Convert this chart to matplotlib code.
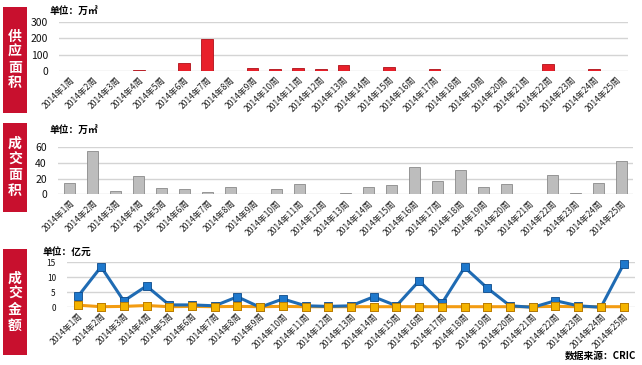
import matplotlib
matplotlib.use("Agg")
import matplotlib.pyplot as plt
from matplotlib.patches import Rectangle
import numpy as np

plt.rcParams['font.family'] = ['Noto Sans CJK SC', 'DejaVu Sans']

weeks = [f"2014年{i}周" for i in range(1, 26)]
supply = [1, 0, 1, 5, 0, 51, 195, 0, 19, 12, 20, 15, 38, 0, 26, 0, 15, 0, 3, 0, 0, 42, 0, 10, 0]
deal_area = [14, 55, 4, 23, 8, 6.5, 3.5, 9, 0, 7, 13.5, 0, 1.5, 9, 12, 35, 17, 31, 9, 13.5, 0, 25, 1.5, 14, 42]
amount_blue = [3.8, 13.5, 2.1, 7.1, 0.8, 0.8, 0.5, 3.5, 0.0, 2.8, 0.5, 0.3, 0.5, 3.5, 0.5, 8.8, 1.3, 13.3, 6.4, 0.5, 0.0, 2.2, 0.5, 0.0, 14.4]
amount_orange = [0.7, 0.2, 0.3, 0.6, 0.2, 0.3, 0.2, 0.3, 0.2, 0.3, 0.2, 0.2, 0.2, 0.2, 0.2, 0.2, 0.2, 0.2, 0.2, 0.2, 0.2, 0.3, 0.2, 0.2, 0.2]

W, H = 642, 365
fig = plt.figure(figsize=(W/100, H/100), dpi=100)

def ax_px(x0, y_top, x1, y_bot):
    return fig.add_axes([x0/W, 1 - y_bot/H, (x1-x0)/W, (y_bot-y_top)/H])

def style(ax, yticks, ylim, fs):
    ax.set_ylim(*ylim)
    ax.set_yticks(yticks)
    ax.set_xlim(-0.5, len(weeks)-0.5)
    ax.set_xticks(range(len(weeks)))
    ax.set_xticklabels(weeks, rotation=45, ha='right', rotation_mode='anchor', fontsize=6.2, color='#222222')
    ax.tick_params(axis='y', labelsize=fs, length=0, pad=8, labelcolor='#111111')
    ax.tick_params(axis='x', length=0, pad=3)
    for s in ax.spines.values():
        s.set_visible(False)
    ax.grid(axis='y', color='#d4d4d4', lw=1)
    ax.set_axisbelow(True)
    ax.patch.set_alpha(0)

def side_box(y0, y1, text):
    fig.patches.append(Rectangle((3/W, 1-y1/H), 24/W, (y1-y0)/H, transform=fig.transFigure,
                                 facecolor='#c8102e', edgecolor='none'))
    fig.text(15/W, 1-(y0+y1)/2/H, "\n".join(text), color='white', fontsize=10, fontweight='bold',
             ha='center', va='center', linespacing=1.15)

# Panel 1
ax1 = ax_px(59, 22, 628, 71)
style(ax1, [0, 100, 200, 300], (0, 300), 7.5)
ax1.bar(range(len(weeks)), supply, width=0.52, color='#e8202a', edgecolor='#b01018', lw=0.6)
side_box(7, 113, "供应面积")
fig.text(50/W, 1-11/H, "单位：万㎡", fontsize=7, fontweight='bold', va='center')

# Panel 2
ax2 = ax_px(58, 147.3, 633, 194.3)
style(ax2, [0, 20, 40, 60], (0, 60), 7.5)
ax2.bar(range(len(weeks)), deal_area, width=0.52, color='#bdbdbd', edgecolor='#8a8a8a', lw=0.6)
side_box(123, 212, "成交面积")
fig.text(50/W, 1-130/H, "单位：万㎡", fontsize=7, fontweight='bold', va='center')

# Panel 3
ax3 = ax_px(67, 262.3, 635, 307.3)
style(ax3, [0, 5, 10, 15], (0, 15), 6)
x = np.arange(len(weeks))
ax3.plot(x, amount_orange, color='#f39c12', lw=2.2, marker='s', ms=5.5, mfc='#f5b400', mec='#b87800', mew=0.6, clip_on=False, zorder=3)
ax3.plot(x, amount_blue, color='#1f6bb3', lw=2.2, marker='s', ms=5.5, mfc='#1e78cc', mec='#0c4a8a', mew=0.6, clip_on=False, zorder=4)
ax3.plot(x, amount_orange, color='#f39c12', lw=0, marker='s', ms=5.5, mfc='#f5b400', mec='#b87800', mew=0.6, clip_on=False, zorder=5)
side_box(249, 355, "成交金额")
fig.text(43/W, 1-252/H, "单位：亿元", fontsize=7, fontweight='bold', va='center')

fig.text(636/W, 1-356/H, "数据来源：CRIC", fontsize=7, fontweight='bold', ha='right', va='center')

fig.savefig("out.png", dpi=100)
